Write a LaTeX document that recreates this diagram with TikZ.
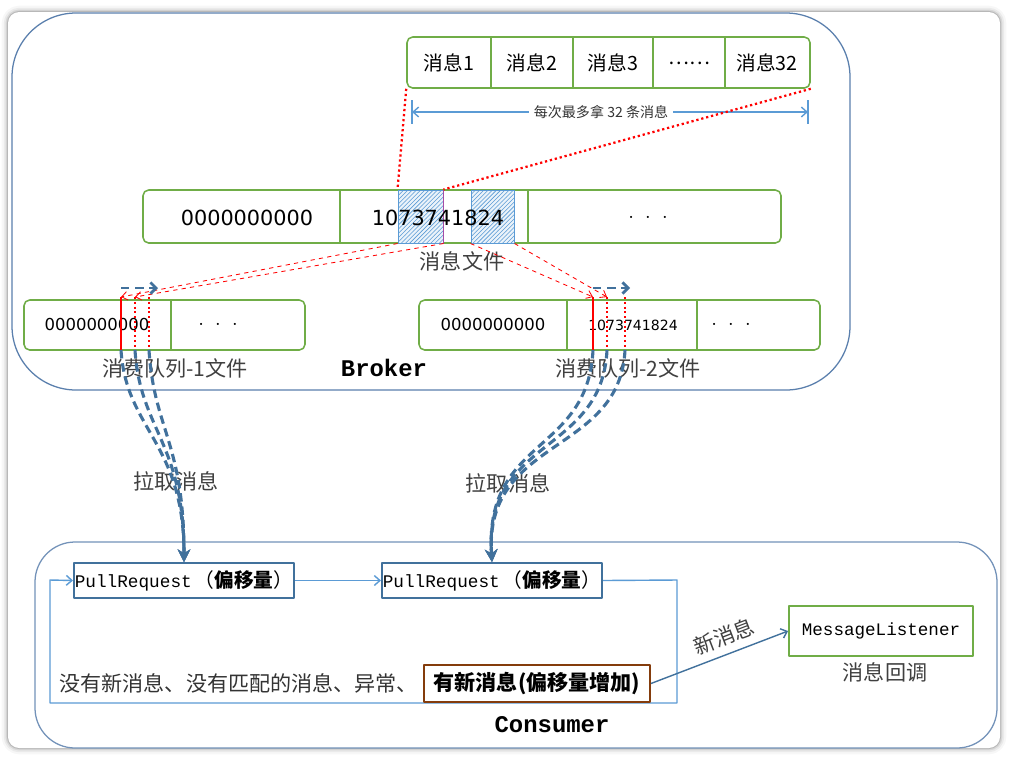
\documentclass[tikz,border=0pt]{standalone}
\usepackage{fontspec}
\setmainfont{Noto Sans CJK SC}
\newfontfamily\digitfont{DejaVu Sans}
\newfontfamily\codefont{Liberation Mono}
\usetikzlibrary{arrows.meta,patterns,positioning,fit}
\definecolor{brkblue}{HTML}{5A7FAD}
\definecolor{cellgreen}{HTML}{70AD47}
\definecolor{linkblue}{HTML}{5B9BD5}
\definecolor{pullblue}{HTML}{41719C}
\definecolor{newbrown}{HTML}{843C0C}
\newcommand\pxfont[1]{\fontsize{#1}{#1}\selectfont}
\newcommand\tridots{\(\cdot\,\,\cdot\,\,\cdot\)}
\newcommand\pullreq{\codefont\pxfont{12.6}PullRequest\,{\normalfont\pxfont{14}（\textbf{偏移量}）}}
\begin{document}
\begin{tikzpicture}[x=0.025cm,y=-0.025cm,line join=round,>=stealth,
	cellrow/.style={draw=cellgreen,line width=1.1pt,rounded corners=4pt,inner sep=0pt},
	divider/.style={cellgreen,line width=1.6pt},
	hatchbox/.style={draw=linkblue,line width=0.7pt,inner sep=0pt,preaction={fill=linkblue!12},pattern=north east lines,pattern color=linkblue},
	reddot/.style={red,line width=1.6pt,dotted},
	reddash/.style={red,line width=0.6pt,dashed,-{Straight Barb[length=4pt,width=6pt]}},
	pulldash/.style={pullblue,line width=2.2pt,dash pattern=on 6pt off 3.5pt,-{Stealth[length=9pt,width=9pt]}},
	shiftdash/.style={pullblue,line width=2pt,dash pattern=on 6pt off 4pt,-{Straight Barb[length=4pt,width=8pt]}},
	flow/.style={linkblue,line width=1pt,-{Straight Barb[length=4pt,width=7pt]}},
	pullbox/.style={draw=pullblue,line width=1.4pt,inner sep=0pt,minimum width=5.5cm,minimum height=0.875cm},
	captext/.style={text=black!75,font=\pxfont{15}},
	big/.style={font=\codefont\bfseries\pxfont{17}}]
\useasboundingbox (0,0) rectangle (1016,771);
\fill[white] (0,0) rectangle (1016,771);
\foreach \w/\o in {9/0.03,6/0.05,3.5/0.08,1.5/0.14}
	\draw[black,opacity=\o,line width=\w pt,rounded corners=8pt] (8,12) rectangle (1000,748);
\fill[white,rounded corners=8pt] (8,12) rectangle (1000,748);
% broker / consumer frames
\draw[brkblue,line width=0.9pt,rounded corners=1.6cm] (12,13) rectangle (850,390);
\draw[brkblue!85,line width=0.9pt,rounded corners=1cm] (35,542) rectangle (997,748);
\node[big] (broker) at (384,368) {Broker};
\node[big] (consumer) at (552,725) {Consumer};

% 32 messages
\node[cellrow,fit={(407,37) (810,88)}] (msgs) {};
\foreach \x in {491,573,653,725} \draw[divider] (\x,37) -- (\x,88);
\foreach \x/\t [count=\i] in {449/消息1,532/消息2,613/消息3,689/……,767/消息32}
	\node[font=\pxfont{14}] (m\i) at (\x,63) {\t};
\node[font=\pxfont{10},text=black!80] (cnt) at (601,112) {每次最多拿 32 条消息};
\coordinate (tkl) at (412,112); \coordinate (tkr) at (808,112);
\draw[linkblue,line width=1.4pt] (412,100) -- (412,124) (808,100) -- (808,124);
\draw[flow] (cnt.west) -- (tkl);
\draw[flow] (cnt.east) -- (tkr);

% message file
\node[cellrow,fit={(143,190) (781,243)}] (mfile) {};
\foreach \x in {340,528} \draw[divider] (\x,190) -- (\x,243);
\node[hatchbox,fit={(398,190) (443,243)}] (hb1) {};
\node[hatchbox,fit={(471,190) (514,243)}] (hb2) {};
\draw[violet!70,line width=1pt] (hb1.north east) -- (hb1.south east);
\node[font=\digitfont\pxfont{14.8}] (f1) at (247,218) {0000000000};
\node[font=\digitfont\pxfont{14.8}] (f2) at (438,218) {1073741824};
\node[font=\pxfont{15}] (f3) at (648,218) {\tridots};
\node[captext] (mfcap) at (462,261) {消息文件};
\draw[reddot] (msgs.south west) -- (hb1.north west);
\draw[reddot] (msgs.south east) -- (hb1.north east);

% consume queues
\node[cellrow,fit={(24,300) (305,350)}] (q1) {};
\draw[divider] (171,300) -- (171,350);
\node[font=\digitfont\pxfont{11.7}] (q1a) at (97,325) {0000000000};
\node[font=\pxfont{14}] (q1b) at (218,325) {\tridots};
\node[captext] (q1cap) at (175,368) {消费队列-1文件};
\node[cellrow,fit={(419,300) (820,350)}] (q2) {};
\foreach \x in {567,697} \draw[divider] (\x,300) -- (\x,350);
\node[font=\digitfont\pxfont{11.7}] (q2a) at (493,325) {0000000000};
\node[font=\digitfont\pxfont{10}] (q2b) at (633,325) {1073741824};
\node[font=\pxfont{14}] (q2c) at (731,325) {\tridots};
\node[captext] (q2cap) at (628,368) {消费队列-2文件};

\foreach \x [count=\i] in {121,135,149} {
	\coordinate (qat\i) at (\x,297); \coordinate (qab\i) at (\x,350);}
\foreach \x [count=\i] in {593,607,625} {
	\coordinate (qbt\i) at (\x,297); \coordinate (qbb\i) at (\x,350);}
\draw[red,line width=1.2pt] (qat1) -- (qab1);
\draw[red,line width=1.2pt] (qbt1) -- (qbb1);
\foreach \i in {2,3} {
	\draw[red,line width=1.4pt,dotted] (qat\i) -- (qab\i);
	\draw[red,line width=1.4pt,dotted] (qbt\i) -- (qbb\i);}
\draw[reddash] (hb1.south west) -- (qat1);
\draw[reddash] (hb1.south east) -- (qat2);
\draw[reddash] (hb2.south west) -- (qbt1);
\draw[reddash] (hb2.south east) -- (qbt2);
\coordinate (sa0) at (121,288); \coordinate (sa1) at (158,288);
\coordinate (sb0) at (593,288); \coordinate (sb1) at (630,288);
\draw[shiftdash] (sa0) -- (sa1);
\draw[shiftdash] (sb0) -- (sb1);

% consumer side
\node[captext] (pull1) at (176,481) {拉取消息};
\node[captext] (pull2) at (508,483) {拉取消息};
\node[pullbox] (pr1) at (184,580.5) {\pullreq};
\node[pullbox] (pr2) at (492,580.5) {\pullreq};
\foreach \i in {1,2,3}
	\draw[pulldash] (qab\i) .. controls +(5,80) and +(0,-120) .. (pr1.north);
\foreach \i in {1,2,3}
	\draw[pulldash] (qbb\i) .. controls +(-5,105) and +(-8,-125) .. (pr2.north);

\draw[flow] (pr1) -- (pr2);
\coordinate (lp1) at (677,580); \coordinate (lp2) at (677,703);
\coordinate (lp3) at (50,703); \coordinate (lp4) at (50,580);
\draw[flow] (pr2.east) -- (lp1) -- (lp2) -- (lp3) -- (lp4) -- (pr1.west);
\node[draw=newbrown,line width=1.3pt,inner sep=0pt,minimum width=5.65cm,minimum height=0.925cm,font=\pxfont{15}\bfseries] (newmsg) at (537,683.5) {有新消息(偏移量增加)};
\node[left=0pt of newmsg,font=\pxfont{15},text=black!80] (nomsg) {没有新消息、没有匹配的消息、异常、};
\node[draw=cellgreen,line width=1.3pt,inner sep=0pt,minimum width=4.6cm,minimum height=1.25cm,font=\codefont\pxfont{12.5}] (ml) at (881,631) {MessageListener};
\node[captext] (mlcap) at (885,672) {消息回调};
\draw[flow,pullblue] (newmsg.east) -- node[above=2pt,sloped,pos=0.58,captext]{新消息} (ml.west);
\end{tikzpicture}
\end{document}
